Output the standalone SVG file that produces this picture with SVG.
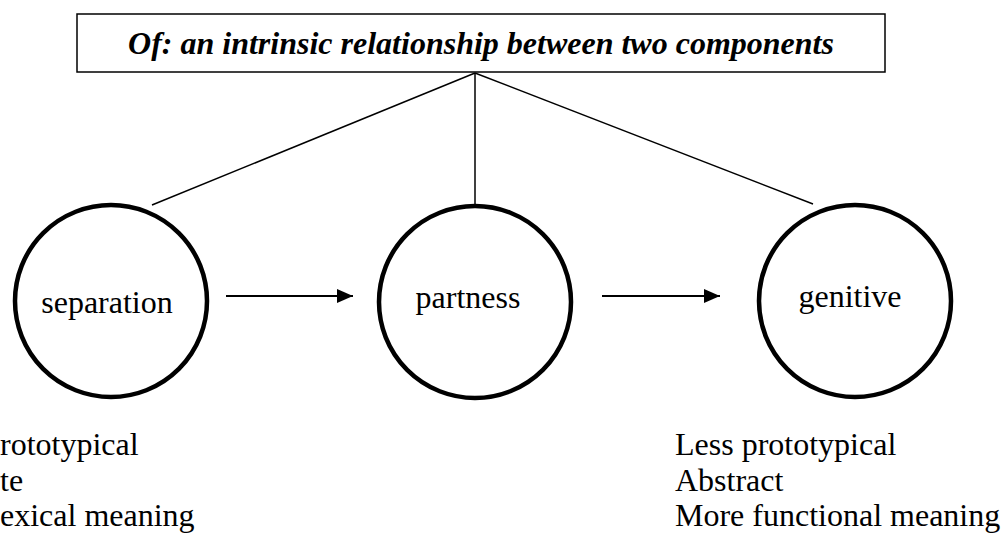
<svg xmlns="http://www.w3.org/2000/svg" width="1002" height="533" viewBox="0 0 1002 533">
<style>
.t{font-family:"Liberation Serif","Times New Roman",serif;font-size:32px;fill:#000}
.title{font-weight:bold;font-style:italic}
.c{fill:none;stroke:#000;stroke-width:4.5}
.ln{stroke:#000;stroke-width:1.5;fill:none}
.ar{stroke:#000;stroke-width:2;fill:none}
</style>
<defs>
<marker id="ah" markerWidth="16" markerHeight="14" refX="16" refY="7" orient="auto" markerUnits="userSpaceOnUse">
<path d="M0,0 L16,7 L0,14 Z" fill="#000"/>
</marker>
</defs>
<rect width="1002" height="533" fill="#fff"/>
<g id="connectors">
<line class="ln" x1="475" y1="73" x2="152" y2="205"/>
<line class="ln" x1="475" y1="73" x2="475" y2="205"/>
<line class="ln" x1="475" y1="73" x2="813" y2="204"/>
<line class="ar" x1="226" y1="296" x2="353" y2="296" marker-end="url(#ah)"/>
<line class="ar" x1="602" y1="296" x2="720" y2="296" marker-end="url(#ah)"/>
</g>
<g id="title">
<rect x="77" y="14" width="808" height="58" fill="#fff" stroke="#000" stroke-width="1.5"/>
<text class="t title" x="481" y="54" text-anchor="middle">Of: an intrinsic relationship between two components</text>
</g>
<g id="separation">
<circle class="c" cx="111" cy="301" r="96"/>
<text class="t" x="107" y="313" text-anchor="middle">separation</text>
</g>
<g id="partness">
<circle class="c" cx="475" cy="302" r="96"/>
<text class="t" x="468" y="308" text-anchor="middle">partness</text>
</g>
<g id="genitive">
<circle class="c" cx="855" cy="301" r="96"/>
<text class="t" x="850" y="307" text-anchor="middle">genitive</text>
</g>
<g id="left-notes">
<text class="t" x="0" y="455">rototypical</text>
<text class="t" x="0" y="491">te</text>
<text class="t" x="0" y="526">exical meaning</text>
</g>
<g id="right-notes">
<text class="t" x="675" y="455">Less prototypical</text>
<text class="t" x="675" y="491">Abstract</text>
<text class="t" x="675" y="526">More functional meaning</text>
</g>
</svg>
